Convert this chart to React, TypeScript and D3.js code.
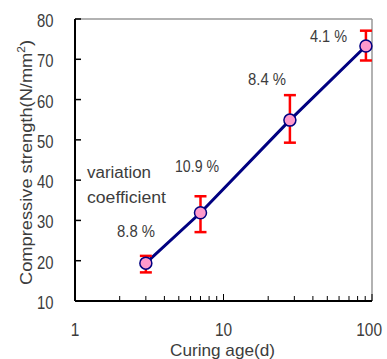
import React from "react";
import * as d3 from "d3";

const ages = [3, 7, 28, 91];
const strength = [19.4, 31.9, 54.9, 73.3];
const errLow = [17.1, 27.1, 49.3, 69.7];
const errHigh = [21.2, 36.0, 61.1, 77.1];
const cvLabels = ["8.8 %", "10.9 %", "8.4 %", "4.1 %"];
const yTicks = [10, 20, 30, 40, 50, 60, 70, 80];
const xMajor = [1, 10, 100];
const xMinor = [2, 3, 4, 5, 6, 7, 8, 9, 20, 30, 40, 50, 60, 70, 80, 90];

const W = 387, H = 359;
const L = 75, R = 372, T = 19, B = 301;

export default function App() {
  const x = d3.scaleLog().domain([1, 100]).range([L, R]);
  const y = d3.scaleLinear().domain([10, 80]).range([B, T]);
  const line = d3.line<number>().x((_, i) => x(ages[i])).y((d) => y(d));
  const font = "'Liberation Sans', Arial, sans-serif";
  const labelPos = [
    [117, 237, 38],
    [175, 172, 44],
    [248, 85, 38],
    [310, 42, 37],
  ];
  const textCol = "#3c3c3c";
  return (
    <svg width={W} height={H} style={{ position: "absolute", left: 0, top: 0 }} fontFamily={font}>
      <rect x={0} y={0} width={W} height={H} fill="#fff" />
      <line x1={L} x2={R} y1={T} y2={T} stroke="#999" strokeWidth={1.5} />
      <line x1={R} x2={R} y1={T} y2={B} stroke="#999" strokeWidth={1.5} />
      {yTicks.map((t) => (
        <g key={t}>
          <line x1={L} x2={L + 6} y1={y(t)} y2={y(t)} stroke="#000" strokeWidth={1.5} />
          <text x={37} y={y(t) + 8} fontSize={19} fill={textCol} textLength={16.5} lengthAdjust="spacingAndGlyphs">{t}</text>
        </g>
      ))}
      {xMinor.map((t) => (
        <line key={t} x1={x(t)} x2={x(t)} y1={B} y2={B - 5} stroke="#000" strokeWidth={1} />
      ))}
      {xMajor.map((t) => {
        const len = String(t).length * 8.6;
        const left = Math.min(x(t) - len / 2, 382 - len);
        return (
          <g key={t}>
            <line x1={x(t)} x2={x(t)} y1={B} y2={B - 7} stroke="#000" strokeWidth={1} />
            <text x={left} y={336} fontSize={18.5} fill={textCol} textLength={len} lengthAdjust="spacingAndGlyphs">{t}</text>
          </g>
        );
      })}
      <line x1={L} x2={L} y1={T} y2={B} stroke="#000" strokeWidth={2} />
      <line x1={L} x2={R} y1={B} y2={B} stroke="#000" strokeWidth={2} />
      <path d={line(strength) || ""} fill="none" stroke="#000080" strokeWidth={3} />
      {ages.map((a, i) => (
        <g key={a} stroke="#ff0000" strokeWidth={2.5}>
          <line x1={x(a)} x2={x(a)} y1={y(errLow[i])} y2={y(errHigh[i])} />
          <line x1={x(a) - 6} x2={x(a) + 6} y1={y(errLow[i])} y2={y(errLow[i])} />
          <line x1={x(a) - 6} x2={x(a) + 6} y1={y(errHigh[i])} y2={y(errHigh[i])} />
        </g>
      ))}
      {ages.map((a, i) => (
        <circle key={a} cx={x(a)} cy={y(strength[i])} r={6} fill="#ff99cc" stroke="#000080" strokeWidth={1.5} />
      ))}
      {cvLabels.map((s, i) => (
        <text key={s} x={labelPos[i][0]} y={labelPos[i][1]} fontSize={16} fill={textCol} textLength={labelPos[i][2]} lengthAdjust="spacingAndGlyphs">{s}</text>
      ))}
      <text x={87} y={178} fontSize={16} fill={textCol} textLength={64} lengthAdjust="spacingAndGlyphs">variation</text>
      <text x={87} y={202.7} fontSize={16} fill={textCol} textLength={79} lengthAdjust="spacingAndGlyphs">coefficient</text>
      <text transform={`translate(32,285) rotate(-90)`} fontSize={17} fill={textCol} textLength={245} lengthAdjust="spacingAndGlyphs">
        Compressive strength(N/mm<tspan dy={-7} fontSize={11}>2</tspan><tspan dy={7}>)</tspan>
      </text>
      <text x={170} y={356} fontSize={17} fill={textCol} textLength={105} lengthAdjust="spacingAndGlyphs">Curing age(d)</text>
    </svg>
  );
}
